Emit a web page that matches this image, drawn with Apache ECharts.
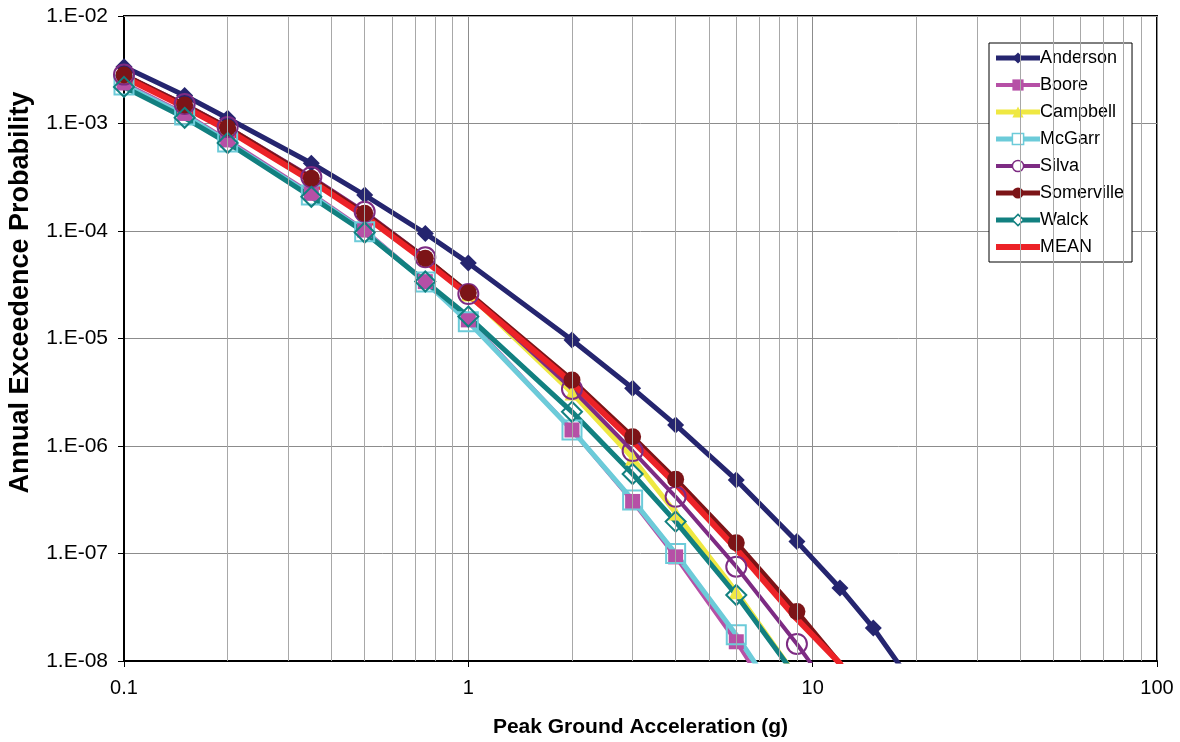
<!DOCTYPE html>
<html>
<head>
<meta charset="utf-8">
<script src="https://cdn.jsdelivr.net/npm/echarts@6/dist/echarts.min.js"></script>
<style>
html,body{margin:0;padding:0;background:#fff;}
#chart{width:1180px;height:742px;}
</style>
</head>
<body>
<div id="chart"></div>
<script>
// Peak ground acceleration (g)
const pga = [0.1, 0.15, 0.2, 0.35, 0.5, 0.75, 1, 2, 3, 4, 6, 9, 12, 15, 20];

const anderson   = [3.37e-3, 1.82e-3, 1.12e-3, 4.27e-4, 2.16e-4, 9.5e-5, 5.05e-5, 9.7e-6, 3.44e-6, 1.57e-6, 4.83e-7, 1.29e-7, 4.78e-8, 2.03e-8, 5.5e-9];
const boore      = [2.38e-3, 1.24e-3, 7.03e-4, 2.24e-4, 1.02e-4, 3.38e-5, 1.49e-5, 1.41e-6, 3.05e-7, 9.3e-8, 1.51e-8, 2.0e-9];
const campbell   = [2.80e-3, 1.49e-3, 9.2e-4, 3.1e-4, 1.47e-4, 5.6e-5, 2.6e-5, 3.11e-6, 7.73e-7, 2.38e-7, 4.41e-8, 7.0e-9];
const mcgarr     = [2.28e-3, 1.20e-3, 6.73e-4, 2.16e-4, 9.85e-5, 3.36e-5, 1.43e-5, 1.41e-6, 3.15e-7, 1.00e-7, 1.75e-8, 2.5e-9];
const silva      = [2.85e-3, 1.52e-3, 9.27e-4, 3.18e-4, 1.51e-4, 5.69e-5, 2.59e-5, 3.39e-6, 8.98e-7, 3.37e-7, 7.54e-8, 1.44e-8, 4.0e-9];
const somerville = [2.83e-3, 1.49e-3, 9.14e-4, 3.09e-4, 1.46e-4, 5.57e-5, 2.67e-5, 4.11e-6, 1.22e-6, 4.90e-7, 1.26e-7, 2.88e-8, 9.5e-9];
const walck      = [2.19e-3, 1.13e-3, 6.59e-4, 2.08e-4, 9.69e-5, 3.39e-5, 1.60e-5, 2.08e-6, 5.49e-7, 1.98e-7, 4.11e-8, 7.0e-9];
const mean       = [2.71e-3, 1.42e-3, 8.7e-4, 2.92e-4, 1.38e-4, 5.26e-5, 2.54e-5, 3.85e-6, 1.11e-6, 4.44e-7, 1.10e-7, 2.46e-8, 9.5e-9, 2.5e-9];

const seriesNames = ['Anderson', 'Boore', 'Campbell', 'McGarr', 'Silva', 'Somerville', 'Walck', 'MEAN'];
const xTickLabels = ['0.1', '1', '10', '100'];
const yTickLabels = ['1.E-08', '1.E-07', '1.E-06', '1.E-05', '1.E-04', '1.E-03', '1.E-02'];

function pairs(ys) { return ys.map((y, i) => [pga[i], y]); }

// minor log grid positions (2..9 within each decade)
const xMinor = [], yMinor = [];
for (let d = -1; d <= 1; d++) for (let k = 2; k <= 9; k++) xMinor.push(k * Math.pow(10, d));
for (let d = -8; d <= -3; d++) for (let k = 2; k <= 9; k++) yMinor.push(k * Math.pow(10, d));

const styles = {
  Anderson:   {color: '#25256f', width: 5, symbol: 'diamond',  size: 17, hollow: false},
  Boore:      {color: '#b650a6', width: 4, symbol: 'rect',     size: 15, hollow: false},
  Campbell:   {color: '#efe842', width: 5, symbol: 'triangle', size: 15, hollow: false},
  McGarr:     {color: '#6ccbd9', width: 5, symbol: 'rect',     size: 19, hollow: true},
  Silva:      {color: '#7d2b83', width: 4, symbol: 'circle',   size: 20, hollow: true},
  Somerville: {color: '#7c1417', width: 5, symbol: 'circle',   size: 17, hollow: false},
  Walck:      {color: '#128080', width: 5, symbol: 'diamond',  size: 20, hollow: true},
  MEAN:       {color: '#ec2227', width: 6, symbol: 'none',     size: 0,  hollow: false}
};
const dataMap = {Anderson: anderson, Boore: boore, Campbell: campbell, McGarr: mcgarr,
  Silva: silva, Somerville: somerville, Walck: walck, MEAN: mean};

const series = [{
  type: 'line', data: [], silent: true, z: 1,
  markLine: {
    silent: true, symbol: 'none', animation: false,
    label: {show: false},
    lineStyle: {color: '#a8a8a8', width: 1, type: 'solid'},
    emphasis: {disabled: true},
    data: xMinor.map(v => ({xAxis: v})).concat(yMinor.map(v => ({yAxis: v})))
  }
}];
seriesNames.forEach(name => {
  const s = styles[name];
  series.push({
    name: name, type: 'line', z: 3,
    data: pairs(dataMap[name]),
    symbol: s.symbol, symbolSize: s.size,
    showSymbol: s.symbol !== 'none',
    color: s.color,
    lineStyle: {color: s.color, width: s.width},
    itemStyle: s.hollow
      ? {color: 'rgba(255,255,255,0)', borderColor: s.color, borderWidth: 2}
      : {color: s.color, borderWidth: 0},
    emphasis: {disabled: true},
    clip: true
  });
});

const legendData = seriesNames.map(name => {
  const s = styles[name];
  const item = {name: name, lineStyle: {color: s.color, width: s.width}};
  if (s.symbol === 'none') item.itemStyle = {opacity: 0, color: 'rgba(0,0,0,0)', borderWidth: 0};
  else if (s.hollow) item.itemStyle = {color: '#fff', borderColor: s.color, borderWidth: 1.5};
  return item;
});

const chart = echarts.init(document.getElementById('chart'), null, {renderer: 'canvas'});
chart.setOption({
  animation: false,
  backgroundColor: '#fff',
  textStyle: {fontFamily: 'Liberation Sans, Arial, sans-serif'},
  grid: {left: 124, top: 16, right: 23, bottom: 81, show: true, borderColor: '#000', borderWidth: 2,
    backgroundColor: '#fff', containLabel: false, outerBoundsMode: 'none'},
  legend: {
    data: legendData, orient: 'vertical', left: 989, top: 43,
    backgroundColor: '#fff', borderColor: '#000', borderWidth: 1,
    padding: [5, 8, 5, 4], itemWidth: 44, itemHeight: 14, itemGap: 7,
    textStyle: {fontSize: 18, color: '#000', lineHeight: 20, padding: [0, 0, 0, -5]},
    selectedMode: false
  },
  xAxis: {
    type: 'log', logBase: 10, min: 0.1, max: 100, splitNumber: 3,
    name: 'Peak Ground Acceleration (g)', nameLocation: 'middle', nameGap: 56,
    nameTextStyle: {fontSize: 21, fontWeight: 'bold', color: '#000'},
    axisLine: {show: true, lineStyle: {color: '#000', width: 2}},
    axisTick: {show: true, inside: false, length: 6, lineStyle: {color: '#000'}},
    axisLabel: {fontSize: 20, color: '#000', margin: 17,
      formatter: v => { const e = Math.round(Math.log10(v)); return xTickLabels[e + 1] || String(v); }},
    splitLine: {show: true, lineStyle: {color: '#8c8c8c', width: 1}}
  },
  yAxis: {
    type: 'log', logBase: 10, min: 1e-8, max: 1e-2, splitNumber: 6,
    name: 'Annual Exceedence Probability', nameLocation: 'middle', nameGap: 90,
    nameTextStyle: {fontSize: 27, fontWeight: 'bold', color: '#000', padding: [0, 0, 0, 92]},
    axisLine: {show: true, lineStyle: {color: '#000', width: 2}},
    axisTick: {show: true, inside: false, length: 6, lineStyle: {color: '#000'}},
    axisLabel: {fontSize: 21, color: '#000', margin: 16,
      formatter: v => { const e = Math.round(Math.log10(v)); return yTickLabels[e + 8] || String(v); }},
    splitLine: {show: true, lineStyle: {color: '#8c8c8c', width: 1}}
  },
  series: series
});
</script>
</body>
</html>
